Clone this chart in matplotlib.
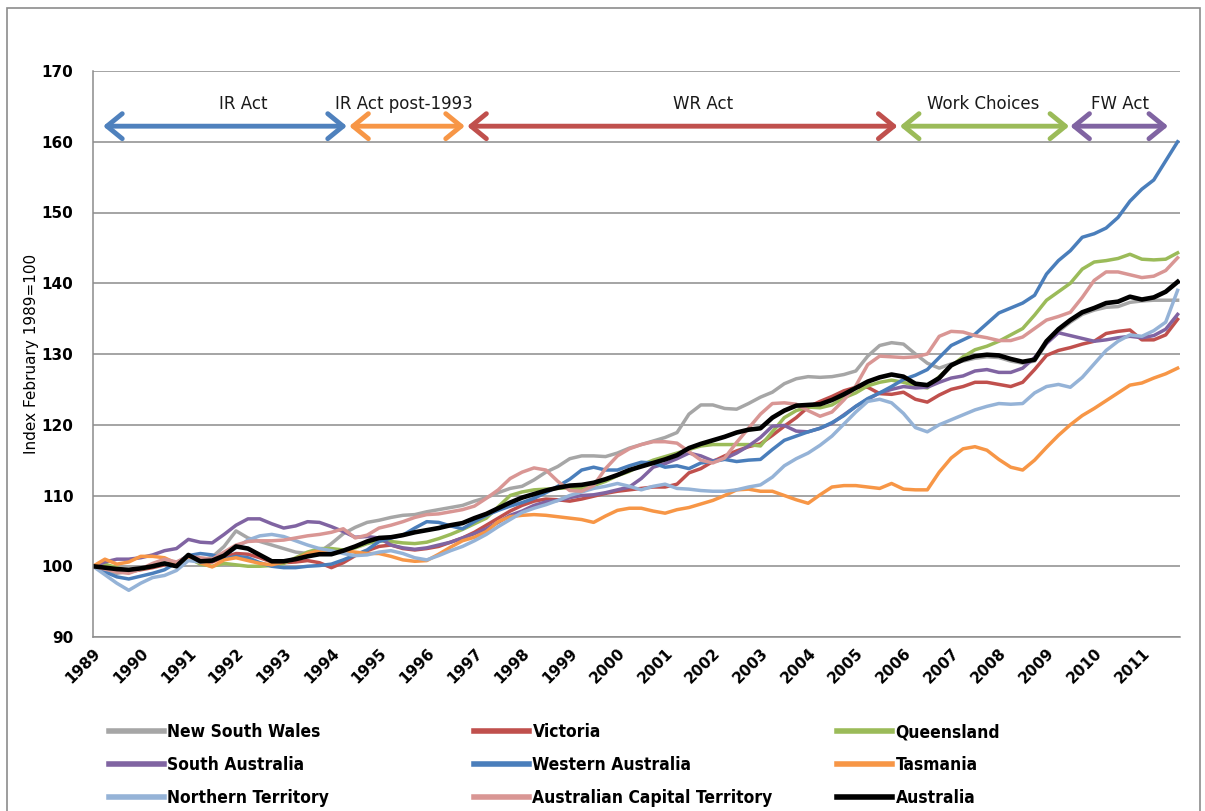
import matplotlib
matplotlib.use("Agg")
import matplotlib.pyplot as plt
from matplotlib import font_manager
from matplotlib.patches import Rectangle

# quarterly index, Feb 1989 = 100 (1989 Q1 .. 2011 Q4)
years = list(range(1989, 2012))

nsw = [100, 99.5, 99.0, 99.3, 99.6, 100.0, 100.3, 100.2, 101.2, 100.8, 101.3, 102.8, 105.0, 104.0, 103.5, 103.0, 102.5, 102.0, 101.8, 102.0, 103.2, 104.6, 105.5, 106.2,
       106.5, 106.9, 107.2, 107.3, 107.7, 108.0, 108.3, 108.6, 109.2, 109.7, 110.4, 111.0, 111.3, 112.2, 113.3, 114.1, 115.2, 115.6, 115.6, 115.5, 116.0, 116.7, 117.2, 117.7, 118.2, 118.9,
       121.5, 122.8, 122.8, 122.3, 122.2, 123.0, 123.9, 124.6, 125.8, 126.5, 126.8, 126.7, 126.8, 127.1, 127.6, 129.7, 131.2, 131.6, 131.4, 130.0, 128.7, 128.0,
       128.6, 129.0, 129.4, 129.6, 129.5, 129.0, 128.7, 129.0, 131.5, 133.2, 134.5, 135.6, 136.2, 136.6, 136.7, 137.3, 137.5, 137.6, 137.6, 137.6]
vic = [100, 99.7, 99.5, 99.2, 99.5, 99.8, 100.2, 100.4, 101.4, 100.5, 100.6, 101.3, 101.8, 101.7, 101.2, 100.6, 100.5, 100.6, 100.8, 100.5, 99.8, 100.5, 101.5, 102.2,
       102.8, 103.0, 102.5, 102.3, 102.5, 102.8, 103.4, 104.0, 104.8, 105.8, 106.8, 107.8, 108.6, 109.2, 109.5, 109.4, 109.2, 109.5, 109.9, 110.3, 110.6, 110.8, 111.0, 111.2,
       111.2, 111.6, 113.2, 113.8, 114.8, 115.6, 116.3, 116.9, 117.3, 118.5, 119.8, 121.0, 122.5, 123.3, 124.0, 124.8, 125.3, 125.3, 124.4, 124.3, 124.6, 123.6,
       123.2, 124.2, 125.0, 125.4, 126.0, 126.0, 125.7, 125.4, 126.0, 127.8, 129.8, 130.5, 130.9, 131.4, 131.8, 132.9, 133.2, 133.4, 132.0, 132.0, 132.7, 134.9]
qld = [100, 100.3, 99.8, 99.3, 99.6, 100.0, 100.4, 100.2, 101.2, 100.3, 100.0, 100.4, 100.2, 100.0, 100.0, 100.1, 100.4, 101.2, 102.0, 102.5, 102.5, 102.3, 102.6, 103.2,
       103.6, 103.5, 103.3, 103.2, 103.4, 103.9, 104.5, 105.2, 106.0, 106.8, 108.4, 110.0, 110.5, 110.8, 110.9, 111.0, 111.1, 111.0, 111.4, 112.0, 112.8, 113.4, 114.3, 115.0, 115.5, 116.0,
       116.5, 117.0, 117.2, 117.2, 117.2, 117.2, 117.0, 119.0, 121.0, 122.0, 122.5, 122.4, 122.8, 123.8, 124.5, 125.5, 126.0, 126.3, 126.0, 125.5,
       125.2, 126.8, 128.3, 129.6, 130.6, 131.1, 131.8, 132.7, 133.6, 135.5, 137.6, 138.8, 140.0, 142.0, 143.0, 143.2, 143.5, 144.1, 143.4, 143.3, 143.4, 144.3]
sa = [100, 100.6, 101.0, 101.0, 101.2, 101.6, 102.2, 102.5, 103.8, 103.4, 103.3, 104.5, 105.8, 106.7, 106.7, 106.0, 105.4, 105.7, 106.3, 106.2, 105.6, 104.9, 104.1, 104.2,
      104.0, 103.0, 102.6, 102.4, 102.6, 103.0, 103.4, 104.0, 104.6, 105.3, 106.2, 107.2, 107.8, 108.6, 109.1, 109.3, 109.7, 110.0, 110.1, 110.4, 110.8, 111.2, 112.4, 114.0, 114.5, 115.2,
      116.0, 115.6, 114.9, 115.2, 116.0, 117.0, 118.2, 119.8, 119.9, 119.1, 119.0, 119.5, 120.2, 121.4, 122.6, 123.6, 124.5, 125.0, 125.4, 125.2,
      125.3, 126.0, 126.6, 126.9, 127.6, 127.8, 127.4, 127.4, 128.0, 129.5, 131.5, 133.0, 132.6, 132.2, 131.8, 132.0, 132.3, 132.5, 132.3, 132.6, 133.5, 135.6]
wa = [100, 99.2, 98.5, 98.2, 98.6, 99.0, 99.5, 100.5, 101.5, 101.8, 101.6, 101.0, 101.4, 101.2, 100.5, 100.0, 99.8, 99.8, 100.0, 100.1, 100.3, 100.9, 101.6, 102.3,
      103.5, 104.0, 104.4, 105.4, 106.3, 106.2, 105.7, 105.3, 106.3, 107.2, 107.9, 108.5, 109.0, 109.6, 110.4, 111.3, 112.3, 113.6, 114.0, 113.6, 113.6, 114.2, 114.7, 114.6, 114.0, 114.2,
      113.8, 114.6, 114.8, 115.1, 114.8, 115.0, 115.1, 116.5, 117.8, 118.4, 119.0, 119.5, 120.3, 121.3, 122.6, 123.7, 124.5, 125.4, 126.4, 127.0,
      127.8, 129.5, 131.2, 132.0, 132.8, 134.3, 135.8, 136.5, 137.2, 138.3, 141.3, 143.2, 144.6, 146.5, 147.0, 147.8, 149.3, 151.6, 153.3, 154.6, 157.3, 160.0]
tas = [100, 101.0, 100.3, 100.6, 101.4, 101.4, 101.2, 100.4, 101.3, 100.5, 99.9, 100.9, 101.2, 100.8, 100.4, 100.2, 100.6, 101.0, 101.8, 102.2, 101.8, 102.2, 102.0, 101.8,
       101.8, 101.4, 100.9, 100.7, 100.8, 101.7, 102.7, 103.6, 104.1, 104.9, 106.3, 107.0, 107.2, 107.3, 107.2, 107.0, 106.8, 106.6, 106.2, 107.1, 107.9, 108.2, 108.2, 107.8, 107.5, 108.0,
       108.3, 108.8, 109.3, 110.0, 110.8, 110.9, 110.6, 110.6, 110.0, 109.4, 108.9, 110.1, 111.2, 111.4, 111.4, 111.2, 111.0, 111.7, 110.9, 110.8,
       110.8, 113.3, 115.3, 116.6, 116.9, 116.4, 115.1, 114.0, 113.6, 115.0, 116.8, 118.5, 120.0, 121.3, 122.3, 123.4, 124.5, 125.6, 125.9, 126.6, 127.2, 128.0]
nt = [100, 98.8, 97.6, 96.6, 97.6, 98.4, 98.7, 99.4, 100.8, 100.6, 100.8, 101.5, 102.6, 103.7, 104.3, 104.5, 104.2, 103.6, 103.0, 102.5, 102.2, 101.8, 101.5, 101.6,
      102.0, 102.2, 101.8, 101.2, 100.9, 101.5, 102.2, 102.8, 103.6, 104.5, 105.6, 106.6, 107.6, 108.2, 108.7, 109.3, 110.0, 110.5, 111.0, 111.3, 111.7, 111.3, 110.8, 111.3, 111.6, 111.0,
      110.9, 110.7, 110.6, 110.6, 110.8, 111.2, 111.5, 112.6, 114.2, 115.2, 116.0, 117.1, 118.4, 120.1, 121.8, 123.3, 123.6, 123.1, 121.6, 119.6,
      119.0, 120.0, 120.7, 121.4, 122.1, 122.6, 123.0, 122.9, 123.0, 124.5, 125.4, 125.7, 125.3, 126.7, 128.6, 130.5, 131.8, 132.7, 132.5, 133.3, 134.5, 139.0]
act = [100, 99.6, 99.2, 99.0, 99.6, 100.4, 101.0, 100.6, 101.4, 101.2, 101.0, 102.0, 103.0, 103.5, 103.6, 103.6, 103.7, 104.0, 104.3, 104.5, 104.8, 105.3, 104.0, 104.4,
       105.4, 105.8, 106.3, 106.9, 107.3, 107.4, 107.7, 108.0, 108.5, 109.6, 110.8, 112.4, 113.3, 113.9, 113.6, 112.0, 110.7, 110.6, 111.4, 113.8, 115.6, 116.6, 117.2, 117.6, 117.6, 117.4,
       116.2, 115.0, 114.6, 115.3, 117.5, 119.5, 121.5, 123.0, 123.1, 122.9, 122.0, 121.2, 121.8, 123.5, 125.5, 128.5, 129.7, 129.6, 129.5, 129.6,
       130.0, 132.5, 133.2, 133.1, 132.6, 132.3, 131.9, 131.9, 132.4, 133.6, 134.8, 135.3, 135.9, 138.0, 140.4, 141.6, 141.6, 141.2, 140.8, 141.0, 141.8, 143.6]
aus = [100, 99.8, 99.6, 99.5, 99.7, 100.0, 100.4, 100.0, 101.6, 100.7, 100.8, 101.5, 102.8, 102.5, 101.6, 100.7, 100.7, 101.0, 101.4, 101.7, 101.7, 102.2, 102.8, 103.5,
       104.0, 104.1, 104.4, 104.8, 105.1, 105.4, 105.8, 106.1, 106.8, 107.4, 108.2, 109.0, 109.7, 110.2, 110.7, 111.1, 111.4, 111.5, 111.8, 112.3, 112.9, 113.6, 114.1, 114.6, 115.1, 115.7,
       116.7, 117.3, 117.8, 118.3, 118.9, 119.3, 119.5, 121.0, 122.0, 122.7, 122.8, 122.9, 123.5, 124.3, 125.2, 126.1, 126.7, 127.1, 126.8, 125.8, 125.6, 126.6,
       128.4, 129.2, 129.7, 129.9, 129.8, 129.3, 128.9, 129.2, 131.8, 133.5, 134.8, 135.9, 136.5, 137.2, 137.4, 138.1, 137.7, 138.0, 138.8, 140.2]

series_names = ["New South Wales", "Victoria", "Queensland", "South Australia", "Western Australia",
                "Tasmania", "Northern Territory", "Australian Capital Territory", "Australia"]
series_data = [nsw, vic, qld, sa, wa, tas, nt, act, aus]
colors = ["#A6A6A6", "#C0504D", "#9BBB59", "#8064A2", "#4A7EBB", "#F79646", "#95B3D7", "#D99694", "#000000"]

# legislative periods (start quarter, end quarter, label)
periods = ["IR Act", "IR Act post-1993", "WR Act", "Work Choices", "FW Act"]
period_start = [0.85, 21.5, 31.4, 67.7, 82.0]
period_end = [21.3, 31.2, 67.5, 81.9, 90.2]
period_label_x = [12.6, 26.1, 51.2, 74.7, 86.2]
period_colors = ["#4F81BD", "#F79646", "#C0504D", "#9BBB59", "#8064A2"]

# condensed font for the legend if one is installed
installed = {(f.name, f.stretch) for f in font_manager.fontManager.ttflist}
if any(n == "Liberation Sans Narrow" for n, _ in installed):
    leg_prop = {"family": "Liberation Sans Narrow", "weight": "bold", "size": 13.5}
elif any(n == "DejaVu Sans" and s == "condensed" for n, s in installed):
    leg_prop = {"family": "DejaVu Sans", "stretch": "condensed", "weight": "bold", "size": 12.5}
else:
    leg_prop = {"family": "DejaVu Sans", "weight": "bold", "size": 11.5}

fig = plt.figure(figsize=(12.05, 8.11), dpi=100)
ax = fig.add_axes([93 / 1205, 1 - 637 / 811, (1180 - 93) / 1205, (637 - 71) / 811])

lines = []
for name, vals, col in zip(series_names, series_data, colors):
    lw = 3.3 if name == "Australia" else 2.5
    ln, = ax.plot(range(len(vals)), vals, color=col, lw=lw, label=name, solid_joinstyle="round")
    lines.append(ln)

ax.set_xlim(0, len(aus) - 1 + 0.2)
ax.set_ylim(90, 170)
ax.set_yticks(range(90, 171, 10))
ax.set_xticks([4 * i for i in range(len(years))])
ax.set_xticklabels([str(y) for y in years], rotation=45, ha="right", va="top",
                   rotation_mode="anchor", fontsize=11, fontweight="bold")
for lab in ax.get_yticklabels():
    lab.set_fontweight("bold")
    lab.set_fontsize(11)
ax.tick_params(axis="y", length=0, pad=14)
ax.tick_params(axis="x", length=0, pad=6)
ax.grid(axis="y", color="#8C8C8C", lw=1.1)
ax.set_axisbelow(True)
for s in ["top", "right"]:
    ax.spines[s].set_visible(False)
for s in ["left", "bottom"]:
    ax.spines[s].set_color("#8C8C8C")
    ax.spines[s].set_linewidth(1.1)
ax.set_ylabel("Index February 1989=100", fontsize=11, labelpad=2)

# period arrows
for lab, x0, x1, lx, col in zip(periods, period_start, period_end, period_label_x, period_colors):
    ax.annotate("", xy=(x1, 162.2), xytext=(x0, 162.2),
                arrowprops=dict(arrowstyle="<->,head_length=0.55,head_width=0.45", color=col, lw=3.5,
                                shrinkA=0, shrinkB=0, mutation_scale=20),
                annotation_clip=False)
    ax.text(lx, 165.4, lab, ha="center", va="center", fontsize=12, color="#1a1a1a")

# legend: three columns placed separately, row-major like the original
cols = [[0, 3, 6], [1, 4, 7], [2, 5, 8]]
col_x = [109, 474, 837]
for idx, cx in zip(cols, col_x):
    leg = fig.legend([lines[i] for i in idx], [series_names[i] for i in idx],
                     loc="upper left", bbox_to_anchor=(cx / 1205, 1 - 723 / 811),
                     frameon=False, borderpad=0, borderaxespad=0,
                     handlelength=55 / (leg_prop["size"] * 100 / 72), handletextpad=0.2,
                     labelspacing=(32.5 / (leg_prop["size"] * 100 / 72)) - 1.0,
                     prop=leg_prop)
    for h in leg.get_lines():
        h.set_linewidth(4)

fig.patches.append(Rectangle((7 / 1205, -0.02), 1193 / 1205, 1 - 8 / 811 + 0.02, transform=fig.transFigure,
                             fill=False, ec="#8C8C8C", lw=1.2))

fig.savefig("out.png", dpi=100)
